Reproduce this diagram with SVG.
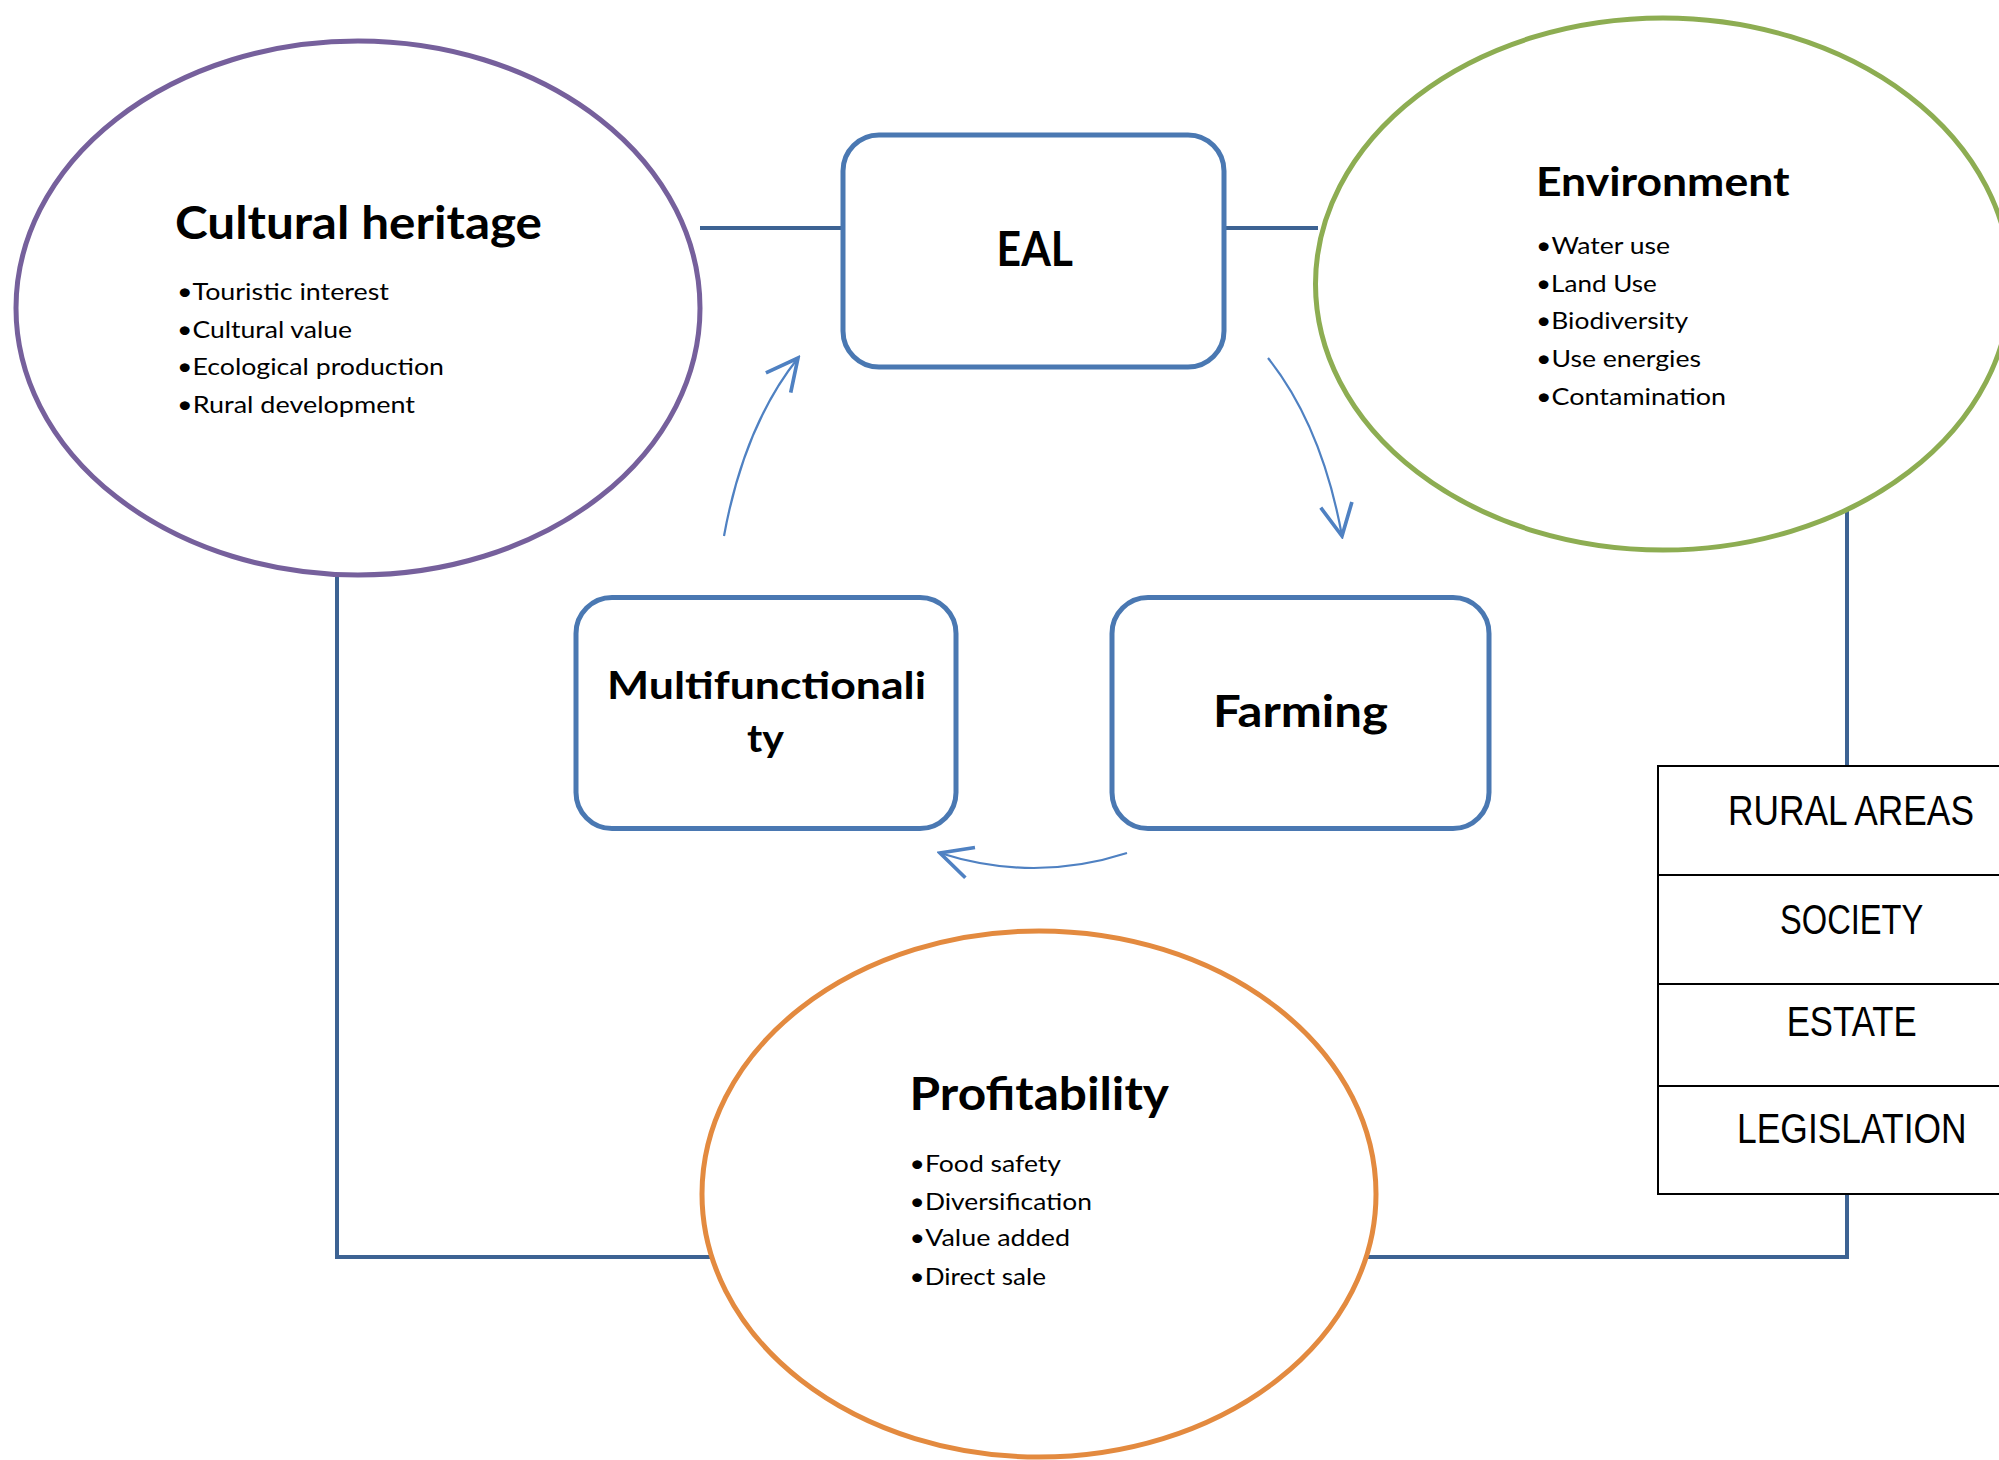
<svg xmlns="http://www.w3.org/2000/svg" width="1999" height="1460" viewBox="0 0 1999 1460">
<defs>
<style>
.title{font-family:Lato,"Open Sans","Liberation Sans",sans-serif;font-weight:bold;fill:#000}
.item{font-family:Lato,"Open Sans","Liberation Sans",sans-serif;font-size:24px;fill:#000}
.box{fill:#fff;stroke:#4A78B2;stroke-width:5}
.conn{fill:none;stroke:#3D6393;stroke-width:4}
.arc{fill:none;stroke:#4F81C2;stroke-width:2.2}
.tbl{fill:#fff;stroke:#000;stroke-width:2}
.tt{font-family:"Liberation Sans Narrow","Liberation Sans",sans-serif;font-size:42px;fill:#000}
</style>
<marker id="ah" markerUnits="userSpaceOnUse" markerWidth="40" markerHeight="40" refX="0" refY="0" viewBox="-22 -12 24 24" orient="auto">
<path d="M -19 -9.5 L 0 0 L -19 9.5" fill="none" stroke="#4F81C2" stroke-width="2.2"/>
</marker>
</defs>
<rect width="1999" height="1460" fill="#fff"/>
<g id="connectors">
<line class="conn" x1="700" y1="228" x2="843" y2="228"/>
<line class="conn" x1="1224" y1="228" x2="1318" y2="228"/>
<polyline class="conn" points="337,575 337,1257 715,1257"/>
<polyline class="conn" points="1364,1257 1847,1257 1847,1194"/>
<line class="conn" x1="1847" y1="508" x2="1847" y2="766"/>
<path class="arc" d="M 724 536 Q 744 426 798 358" marker-end="url(#ah)"/>
<path class="arc" d="M 1268 358 Q 1322 426 1342 536" marker-end="url(#ah)"/>
<path class="arc" d="M 1127 853 Q 1034 883 940 853" marker-end="url(#ah)"/>
</g>
<g id="cultural-heritage">
<ellipse cx="358" cy="308" rx="342" ry="267" fill="#fff" stroke="#76609C" stroke-width="5"/>
<text class="title" x="175" y="239" font-size="45" textLength="367" lengthAdjust="spacingAndGlyphs">Cultural heritage</text>
<text class="item" x="177" y="300" textLength="212" lengthAdjust="spacingAndGlyphs">•Touristic interest</text>
<text class="item" x="177" y="337.5" textLength="175" lengthAdjust="spacingAndGlyphs">•Cultural value</text>
<text class="item" x="177" y="375" textLength="267" lengthAdjust="spacingAndGlyphs">•Ecological production</text>
<text class="item" x="177" y="412.5" textLength="238" lengthAdjust="spacingAndGlyphs">•Rural development</text>
</g>
<g id="environment">
<ellipse cx="1663" cy="284" rx="347.5" ry="266" fill="#fff" stroke="#8DAD52" stroke-width="5"/>
<text class="title" x="1536" y="195.7" font-size="41" textLength="253.5" lengthAdjust="spacingAndGlyphs">Environment</text>
<text class="item" x="1536" y="253.6" textLength="134" lengthAdjust="spacingAndGlyphs">•Water use</text>
<text class="item" x="1536" y="292" textLength="120.7" lengthAdjust="spacingAndGlyphs">•Land Use</text>
<text class="item" x="1536" y="329" textLength="152" lengthAdjust="spacingAndGlyphs">•Biodiversity</text>
<text class="item" x="1536" y="366.5" textLength="165" lengthAdjust="spacingAndGlyphs">•Use energies</text>
<text class="item" x="1536" y="404.6" textLength="190" lengthAdjust="spacingAndGlyphs">•Contamination</text>
</g>
<g id="profitability">
<ellipse cx="1039" cy="1194" rx="337" ry="263" fill="#fff" stroke="#E38A3F" stroke-width="5"/>
<text class="title" x="909.6" y="1110" font-size="45" textLength="259.4" lengthAdjust="spacingAndGlyphs">Profitability</text>
<text class="item" x="909.6" y="1172" font-size="25" textLength="151.4" lengthAdjust="spacingAndGlyphs">•Food safety</text>
<text class="item" x="909.6" y="1209.6" font-size="25" textLength="182.4" lengthAdjust="spacingAndGlyphs">•Diversification</text>
<text class="item" x="909.6" y="1246.4" font-size="25" textLength="160.4" lengthAdjust="spacingAndGlyphs">•Value added</text>
<text class="item" x="909.6" y="1284.6" font-size="25" textLength="136.4" lengthAdjust="spacingAndGlyphs">•Direct sale</text>
</g>
<g id="eal">
<rect class="box" x="843" y="135" width="381" height="232" rx="36" ry="36"/>
<text class="title" x="996.6" y="265.7" font-size="47.5" textLength="76.4" lengthAdjust="spacingAndGlyphs">EAL</text>
</g>
<g id="multifunctionality">
<rect class="box" x="576" y="597.5" width="380" height="231" rx="36" ry="36"/>
<text class="title" x="607" y="699.3" font-size="38.7" textLength="319" lengthAdjust="spacingAndGlyphs">Multifunctionali</text>
<text class="title" x="747" y="752" font-size="38.7" textLength="37" lengthAdjust="spacingAndGlyphs">ty</text>
</g>
<g id="farming">
<rect class="box" x="1112" y="597.5" width="377" height="231" rx="36" ry="36"/>
<text class="title" x="1213" y="726.7" font-size="44" textLength="175" lengthAdjust="spacingAndGlyphs">Farming</text>
</g>
<g id="context-table">
<rect class="tbl" x="1658" y="766" width="343" height="428"/>
<line class="tbl" x1="1658" y1="875" x2="2001" y2="875"/>
<line class="tbl" x1="1658" y1="984" x2="2001" y2="984"/>
<line class="tbl" x1="1658" y1="1086" x2="2001" y2="1086"/>
<text class="tt" transform="translate(1728,825) scale(0.88,1)" textLength="279.5" lengthAdjust="spacingAndGlyphs">RURAL AREAS</text>
<text class="tt" transform="translate(1780,934) scale(0.88,1)" textLength="162.8" lengthAdjust="spacingAndGlyphs">SOCIETY</text>
<text class="tt" transform="translate(1786.7,1036) scale(0.88,1)" textLength="147.7" lengthAdjust="spacingAndGlyphs">ESTATE</text>
<text class="tt" transform="translate(1737,1143.3) scale(0.88,1)" textLength="261" lengthAdjust="spacingAndGlyphs">LEGISLATION</text>
</g>
</svg>
